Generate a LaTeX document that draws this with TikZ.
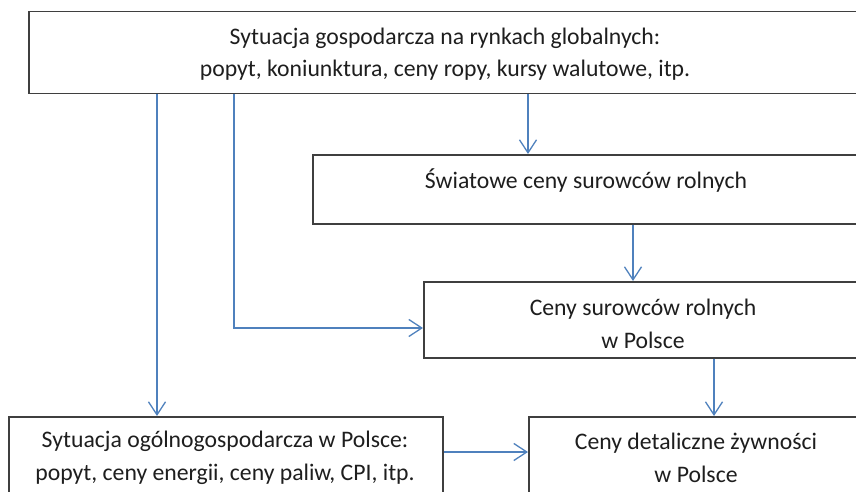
\documentclass[tikz,border=0pt]{standalone}
\usepackage{fontspec}
\setmainfont{Carlito}
\usetikzlibrary{arrows.meta}
\definecolor{edge}{HTML}{3F3F3F}
\definecolor{flow}{HTML}{4F81BD}
\definecolor{ink}{HTML}{1E1E1E}
\begin{document}
\begin{tikzpicture}[x=1pt,y=-1pt,
  box/.style={draw=edge,line width=1.5pt,fill=white,inner sep=0pt,anchor=north west},
  flow/.style={draw=flow,line width=1.3pt,
    -{Straight Barb[length=13pt,width=17pt,line width=1.3pt]}},
  txt/.style={text=ink,font=\fontsize{23.7}{32.5}\selectfont,align=center,inner sep=0pt}]
\useasboundingbox (0,0) rectangle (856,492);
\clip (0,0) rectangle (856,492);

% boxes
\node[box,minimum width=834pt,minimum height=82pt] (global) at (28,11) {};
\node[box,minimum width=550pt,minimum height=69pt] (world) at (312,154) {};
\node[box,minimum width=439pt,minimum height=76pt] (raw) at (423,281) {};
\node[box,minimum width=434pt,minimum height=110pt] (economy) at (8,416) {};
\node[box,minimum width=334pt,minimum height=110pt] (retail) at (528,416) {};

% box texts
\node[txt] (globaltxt) at (445,54) {Sytuacja gospodarcza na rynkach globalnych:\\popyt, koniunktura, ceny ropy, kursy walutowe, itp.};
\node[txt] (worldtxt) at (586,181) {Światowe ceny surowców rolnych};
\node[txt] (rawtxt) at (643,324) {Ceny surowców rolnych\\w Polsce};
\node[txt] (economytxt) at (225,458) {Sytuacja ogólnogospodarcza w Polsce:\\popyt, ceny energii, ceny paliw, CPI, itp.};
\node[txt] (retailtxt) at (696,458) {Ceny detaliczne żywności\\w Polsce};

% connectors
\draw[flow] (157,0 |- global.south) -- (157,0 |- economy.north);
\draw[flow] (234,0 |- global.south) -- (234,328) -- (raw.west |- 0,328);
\draw[flow] (528,0 |- global.south) -- (528,0 |- world.north);
\draw[flow] (633,0 |- world.south) -- (633,0 |- raw.north);
\draw[flow] (714,0 |- raw.south) -- (714,0 |- retail.north);
\draw[flow] (economy.east |- 0,452) -- (retail.west |- 0,452);
\end{tikzpicture}
\end{document}
